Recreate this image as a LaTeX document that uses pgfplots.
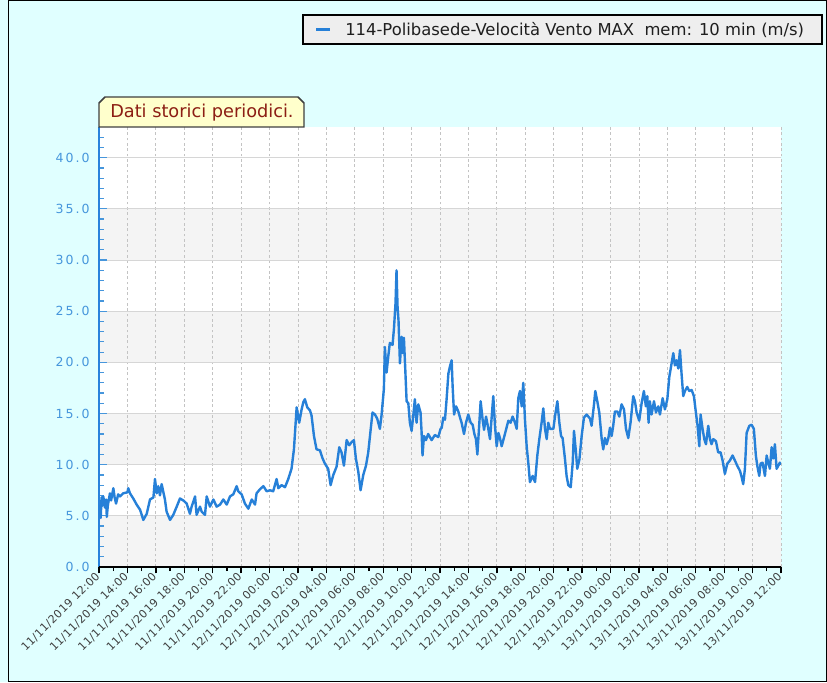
\documentclass[border=0pt]{standalone}
\usepackage{pgfplots}
\pgfplotsset{compat=1.18}
\usepackage{pgfplotstable}
\usepackage{fontspec}
\setmainfont{DejaVu Sans}
\newfontfamily\ytickfont{DejaVu Sans}[LetterSpace=16]
\newfontfamily\xtickfont{DejaVu Sans}[LetterSpace=4]
\definecolor{bgcyan}{RGB}{224,255,255}
\definecolor{band}{RGB}{244,244,244}
\definecolor{gridc}{RGB}{214,214,214}
\definecolor{vgrid}{RGB}{195,195,195}
\definecolor{lineblue}{RGB}{38,128,216}
\definecolor{tickblue}{RGB}{70,150,220}
\definecolor{axisblue}{RGB}{40,130,220}
\definecolor{legfill}{RGB}{238,238,238}
\definecolor{labfill}{RGB}{255,255,204}
\definecolor{labtext}{RGB}{140,30,20}
\definecolor{xlab}{RGB}{64,64,64}

\pgfplotstableread{
h v
0.00 5.0
0.07 6.0
0.12 4.8
0.18 6.8
0.25 6.0
0.30 6.9
0.42 5.8
0.50 6.6
0.55 4.9
0.62 6.0
0.77 7.2
0.85 6.5
1.01 7.7
1.10 6.8
1.20 6.2
1.35 7.1
1.48 6.9
1.70 7.2
2.00 7.3
2.06 7.7
2.18 7.2
2.41 6.7
2.65 6.1
2.89 5.6
3.12 4.6
3.36 5.2
3.59 6.6
3.83 6.8
3.94 8.6
4.06 7.2
4.17 7.9
4.29 7.0
4.41 8.1
4.64 6.6
4.76 5.4
5.00 4.6
5.23 5.1
5.47 5.9
5.70 6.7
5.94 6.5
6.17 6.2
6.40 5.2
6.52 5.9
6.76 6.9
6.87 5.1
7.11 5.9
7.23 5.4
7.46 5.1
7.58 6.9
7.81 5.9
8.05 6.6
8.28 5.9
8.52 6.1
8.75 6.6
8.99 6.1
9.22 6.9
9.45 7.1
9.69 7.9
9.80 7.4
10.04 7.1
10.27 6.2
10.51 5.7
10.75 6.6
10.98 6.1
11.09 7.2
11.33 7.6
11.57 7.9
11.80 7.4
12.03 7.5
12.26 7.4
12.50 8.6
12.62 7.7
12.85 8.0
13.09 7.8
13.32 8.6
13.55 9.6
13.72 11.5
13.91 15.6
14.09 14.1
14.26 15.4
14.38 16.1
14.49 16.4
14.66 15.6
14.85 15.3
14.96 14.8
15.13 12.8
15.31 11.5
15.55 11.4
15.74 10.6
15.90 10.1
16.13 9.6
16.30 8.0
16.49 9.0
16.72 9.8
16.91 11.7
17.07 11.2
17.24 9.9
17.43 12.4
17.61 11.9
17.78 12.2
17.94 12.4
18.08 10.6
18.25 9.3
18.41 7.5
18.60 9.0
18.79 9.9
18.95 11.2
19.11 13.3
19.25 15.1
19.42 14.9
19.58 14.5
19.77 13.5
19.89 14.9
20.05 17.4
20.12 21.5
20.24 19.0
20.36 20.6
20.47 21.9
20.66 21.7
20.76 23.3
20.87 25.8
20.94 29.0
21.01 25.5
21.08 24.1
21.18 19.9
21.30 22.5
21.37 20.9
21.46 22.4
21.55 19.5
21.65 16.2
21.77 16.0
21.88 14.1
22.00 13.3
22.12 14.8
22.23 16.4
22.35 14.1
22.47 15.9
22.63 15.1
22.70 13.3
22.77 10.9
22.87 12.8
23.01 12.4
23.17 13.0
23.41 12.4
23.64 12.9
23.88 12.7
24.04 13.5
24.12 13.6
24.23 14.6
24.35 14.4
24.47 16.5
24.59 18.9
24.70 19.6
24.82 20.2
24.89 17.6
24.99 14.9
25.13 15.7
25.29 15.2
25.41 14.6
25.52 14.1
25.69 13.0
25.83 14.1
25.99 14.9
26.16 14.1
26.30 13.9
26.42 13.0
26.53 12.5
26.63 11.0
26.77 14.1
26.86 16.2
27.00 14.4
27.10 13.4
27.24 14.7
27.35 13.9
27.52 12.5
27.64 14.7
27.75 16.7
27.87 13.8
27.99 11.8
28.11 13.1
28.22 12.6
28.34 11.8
28.57 13.0
28.81 14.3
28.97 14.1
29.11 14.7
29.28 14.1
29.40 13.5
29.51 16.5
29.63 17.2
29.75 15.7
29.86 18.0
29.98 14.4
30.10 11.8
30.22 10.1
30.33 8.3
30.52 8.9
30.69 8.3
30.85 10.9
30.99 12.5
31.15 14.1
31.27 15.5
31.39 13.5
31.51 12.5
31.62 14.1
31.74 13.5
31.98 13.5
32.09 14.7
32.26 16.2
32.40 14.1
32.52 12.8
32.63 12.6
32.80 10.5
32.91 8.9
33.03 8.0
33.20 7.8
33.34 10.2
33.43 13.3
33.57 11.2
33.66 9.6
33.81 10.5
33.97 12.8
34.13 14.6
34.32 14.9
34.56 14.5
34.67 13.8
34.84 15.9
34.93 17.2
35.07 16.2
35.21 15.1
35.38 12.5
35.49 11.5
35.61 12.6
35.73 12.0
35.85 12.6
35.96 13.6
36.08 12.8
36.19 13.8
36.31 15.2
36.48 15.2
36.62 14.7
36.78 15.9
36.95 15.4
37.09 13.5
37.25 12.6
37.41 14.1
37.60 16.7
37.72 16.2
37.84 15.1
38.02 14.3
38.19 16.0
38.35 17.2
38.49 15.7
38.59 16.7
38.68 14.1
38.77 16.2
38.89 14.9
39.06 16.2
39.20 15.1
39.36 15.7
39.48 14.9
39.67 16.5
39.83 15.4
40.00 16.4
40.14 18.6
40.30 19.9
40.42 20.9
40.53 19.7
40.65 20.2
40.77 19.4
40.89 21.2
41.00 18.9
41.12 16.7
41.24 17.2
41.40 17.6
41.54 17.2
41.71 17.3
41.87 16.7
42.01 15.1
42.13 13.8
42.25 11.8
42.34 14.9
42.48 13.5
42.60 12.5
42.72 12.0
42.88 13.8
43.00 12.5
43.11 12.0
43.23 12.5
43.42 12.3
43.58 11.2
43.75 11.2
43.89 10.4
44.05 9.1
44.22 10.1
44.40 10.4
44.59 10.9
44.76 10.4
44.92 9.9
45.11 9.4
45.23 8.8
45.34 8.1
45.46 9.6
45.58 13.1
45.77 13.8
45.93 13.9
46.09 13.5
46.23 10.9
46.33 9.9
46.47 8.9
46.56 10.1
46.70 10.2
46.87 8.9
46.99 10.9
47.10 10.2
47.22 9.6
47.34 11.7
47.45 10.6
47.57 12.0
47.69 9.6
47.81 9.9
47.92 10.2
48.00 10.0
}\datatable

\begin{document}
\begin{tikzpicture}
\fill[bgcyan] (0,0) rectangle (620.25pt,511.5pt);
\useasboundingbox (0,0) rectangle (620.25pt,511.5pt);

% axis A: bands, grids, y axis
\begin{axis}[
  at={(74.25pt,86.25pt)}, anchor=south west,
  scale only axis, width=511.5pt, height=330pt,
  xmin=0, xmax=48, ymin=0, ymax=43,
  axis on top,
  axis x line*=bottom, axis y line*=left,
  x axis line style={draw=none},
  y axis line style={-, draw=axisblue, line width=2.2pt},
  xtick={2,4,...,48}, xticklabels={},
  x tick style={draw=none},
  xmajorgrids,
  major x grid style={vgrid, dash pattern=on 2pt off 2pt, line width=0.6pt},
  ytick={0,5,...,40},
  yticklabels={0.0,5.0,10.0,15.0,20.0,25.0,30.0,35.0,40.0},
  minor ytick={1,...,42},
  ymajorgrids,
  major y grid style={gridc, line width=0.75pt},
  tick align=inside,
  major tick length=6pt, minor tick length=3.8pt,
  y tick style={tickblue, line width=0.9pt},
  yticklabel style={font=\ytickfont\fontsize{9.4pt}{11pt}\selectfont, text=tickblue, xshift=-3.5pt},
]
\fill[white] (axis cs:0,0) rectangle (axis cs:48,43);
\fill[band] (axis cs:0,0) rectangle (axis cs:48,5);
\fill[band] (axis cs:0,10) rectangle (axis cs:48,15);
\fill[band] (axis cs:0,20) rectangle (axis cs:48,25);
\fill[band] (axis cs:0,30) rectangle (axis cs:48,35);
\end{axis}

% axis B: data and x axis
\begin{axis}[
  at={(74.25pt,86.25pt)}, anchor=south west,
  scale only axis, width=511.5pt, height=330pt,
  xmin=0, xmax=48, ymin=0, ymax=43,
  axis x line*=bottom, axis y line=none,
  x axis line style={-, draw=black, line width=1.5pt},
  ytick=\empty,
  xtick={0,2,...,48},
  minor xtick={1,3,...,47},
  tick align=outside,
  major tick length=4.8pt, minor tick length=3pt,
  x tick style={black, line width=1pt},
  xticklabels={11/11/2019 12:00,11/11/2019 14:00,11/11/2019 16:00,11/11/2019 18:00,11/11/2019 20:00,11/11/2019 22:00,12/11/2019 00:00,12/11/2019 02:00,12/11/2019 04:00,12/11/2019 06:00,12/11/2019 08:00,12/11/2019 10:00,12/11/2019 12:00,12/11/2019 14:00,12/11/2019 16:00,12/11/2019 18:00,12/11/2019 20:00,12/11/2019 22:00,13/11/2019 00:00,13/11/2019 02:00,13/11/2019 04:00,13/11/2019 06:00,13/11/2019 08:00,13/11/2019 10:00,13/11/2019 12:00},
  xticklabel style={rotate=45, anchor=east, font=\xtickfont\fontsize{8.3pt}{10pt}\selectfont, text=xlab, inner sep=1pt},
]
\addplot[lineblue, line width=1.8pt, line join=round, mark=none] table[x=h, y=v] {\datatable};
\end{axis}

\begin{scope}[x=0.75pt, y=-0.75pt, yshift=511.5pt]
  \draw[black, line width=0.75pt] (8,0.5) rectangle (826.5,681.5);
  \draw[fill=legfill, draw=black, line width=1.1pt] (303,15) rectangle (822,44);
  \draw[lineblue, line width=2.2pt] (316,29.5) -- (330,29.5);
  \node[anchor=west, inner sep=0pt, font=\fontsize{12.3pt}{14pt}\selectfont, text=black!88] at (345,30) {114-Polibasede-Velocità Vento MAX\ \ mem: 10 min (m/s)};
  \draw[fill=labfill, draw=black!75, line width=1.1pt] (99,127) -- (99,103) -- (105,97) -- (298,97) -- (304,103) -- (304,127) -- cycle;
  \node[anchor=west, inner sep=0pt, font=\fontsize{13.3pt}{15pt}\selectfont, text=labtext] at (110,113) {Dati storici periodici.};
\end{scope}
\end{tikzpicture}
\end{document}
